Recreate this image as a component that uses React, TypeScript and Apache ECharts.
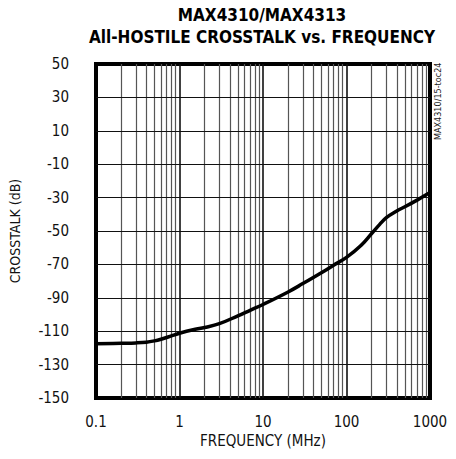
import React, { useEffect, useRef } from "react";
import * as echarts from "echarts";

const freqMHz = [0.1, 0.2, 0.3, 0.4, 0.5, 0.6, 0.8, 1, 1.5, 2, 3, 5, 7, 10, 20, 30, 50, 70, 100, 150, 200, 250, 300, 400, 500, 700, 1000];
const crosstalkDb = [-117.5, -117.2, -117, -116.6, -115.8, -114.8, -112.8, -111.2, -109, -107.8, -105.5, -100.8, -97.5, -94, -86.5, -81.5, -75, -70.5, -65.8, -58.5, -51.5, -46, -42, -38, -35.5, -31.5, -27];
const xTickLabels = [0.1, 1, 10, 100, 1000];
const yGridValues = [-130, -110, -90, -70, -50, -30, -10, 10, 30];
const minorGridFreqs = [
  0.2, 0.3, 0.4, 0.5, 0.6, 0.7, 0.8, 0.9,
  2, 3, 4, 5, 6, 7, 8, 9,
  20, 30, 40, 50, 60, 70, 80, 90,
  200, 300, 400, 500, 600, 700, 800, 900,
];
const decadeGridFreqs = [1, 10, 100];

const FONT = "'Liberation Sans Narrow', 'DejaVu Sans Condensed', 'Liberation Sans', sans-serif";

export default function App() {
  const ref = useRef<HTMLDivElement>(null);
  useEffect(() => {
    if (!ref.current) return;
    const chart = echarts.init(ref.current, null, { renderer: "svg" });
    chart.setOption({
      animation: false,
      backgroundColor: "#fff",
      grid: {
        left: 96,
        right: 26,
        top: 64,
        bottom: 61,
        show: true,
        borderColor: "#000",
        borderWidth: 4,
        backgroundColor: "transparent",
      },
      xAxis: {
        type: "log",
        logBase: 10,
        min: 0.1,
        max: 1000,
        name: "FREQUENCY (MHz)",
        nameLocation: "middle",
        nameGap: 33,
        nameTextStyle: { fontFamily: FONT, fontSize: 15, color: "#111" },
        axisLine: { show: false },
        axisTick: { show: false },
        splitLine: { show: false },
        axisLabel: {
          margin: 16,
          fontFamily: FONT,
          fontSize: 15,
          color: "#111",
          formatter: (v: number) => {
            const m = xTickLabels.find((t) => Math.abs(t - v) / t < 1e-6);
            return m !== undefined ? String(m) : "";
          },
        },
      },
      yAxis: {
        type: "value",
        min: -150,
        max: 50,
        interval: 20,
        name: "CROSSTALK (dB)",
        nameLocation: "middle",
        nameGap: 74,
        nameTextStyle: { fontFamily: FONT, fontSize: 14, color: "#111" },
        axisLine: { show: false },
        axisTick: { show: false },
        splitLine: { show: false },
        axisLabel: { margin: 27, fontFamily: FONT, fontSize: 15, color: "#111" },
      },
      graphic: [
        {
          type: "text",
          x: 262,
          y: 4,
          style: {
            text: "MAX4310/MAX4313\nAll-HOSTILE CROSSTALK vs. FREQUENCY",
            font: `bold 17px ${FONT}`,
            fill: "#000",
            align: "center",
            verticalAlign: "top",
            lineHeight: 22,
          },
        },
        {
          type: "text",
          x: 433,
          y: 140,
          rotation: Math.PI / 2,
          style: {
            text: "MAX4310/15-toc24",
            font: `9px ${FONT}`,
            fill: "#222",
            align: "left",
            verticalAlign: "top",
          },
        },
      ],
      series: [
        {
          type: "line",
          data: freqMHz.map((f, i) => [f, crosstalkDb[i]]),
          smooth: 0.4,
          showSymbol: false,
          lineStyle: { color: "#000", width: 3.5 },
          z: 5,
          markLine: {
            silent: true,
            symbol: "none",
            label: { show: false },
            animation: false,
            data: [
              ...minorGridFreqs.map((f) => ({ xAxis: f, lineStyle: { color: "#555", width: 1.2, type: "solid" } })),
              ...decadeGridFreqs.map((f) => ({ xAxis: f, lineStyle: { color: "#111", width: 1.6, type: "solid" } })),
              ...yGridValues.map((v) => ({ yAxis: v, lineStyle: { color: "#111", width: 1.2, type: "solid" } })),
            ],
          },
        },
      ],
    });
    return () => chart.dispose();
  }, []);
  return <div ref={ref} style={{ position: "fixed", left: 0, top: 0, width: 456, height: 459 }} />;
}
